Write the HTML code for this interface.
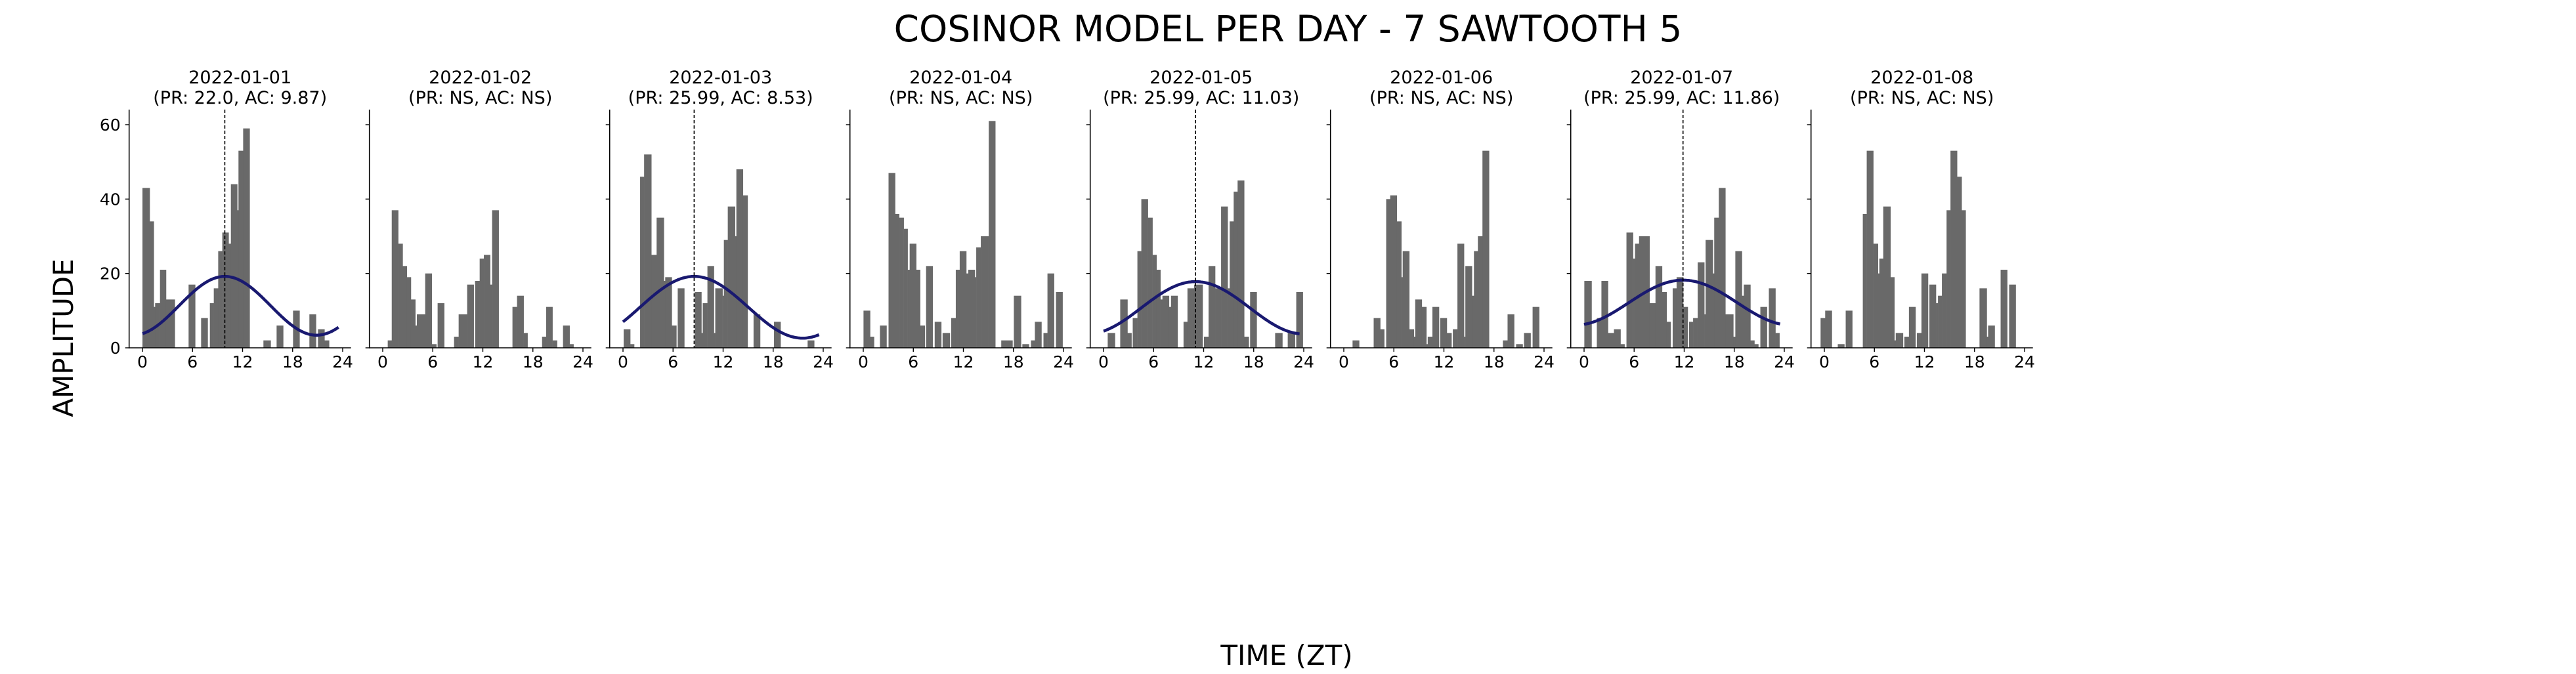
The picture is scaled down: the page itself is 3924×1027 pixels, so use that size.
<!DOCTYPE html>
<html><head><meta charset="utf-8">
<style>
html,body{margin:0;padding:0;background:#fff;}
svg{display:block;font-family:"DejaVu Sans","Liberation Sans",sans-serif;}
</style></head>
<body>
<svg id="chart" width="3924" height="1027" viewBox="0 0 3924 1027" xmlns="http://www.w3.org/2000/svg">
<text x="1962" y="63" font-size="55" text-anchor="middle" fill="#000">COSINOR MODEL PER DAY - 7 SAWTOOTH 5</text>
<text x="0" y="0" font-size="42" text-anchor="middle" fill="#000" transform="translate(111,515) rotate(-90)">AMPLITUDE</text>
<text x="1960" y="1013" font-size="42" text-anchor="middle" fill="#000">TIME (ZT)</text>
<g id="panels"></g>
</svg>
<script>
// Per-day visible bar segments: start hour, end hour, amplitude
const d1_t0=[0,0.87,1.36,1.52,2.1,2.83,5.53,7.03,8.08,8.55,9.08,9.57,10.33,10.6,11.36,11.51,12.07,14.5,16.08,18.05,20.01,21.04,21.82];
const d1_t1=[0.87,1.36,1.52,2.1,2.83,3.88,6.32,7.82,8.55,9.08,9.57,10.33,10.6,11.36,11.51,12.07,12.85,15.37,16.87,18.83,20.8,21.82,22.37];
const d1_v=[43,34,11,12,21,13,17,8,12,16,26,31,28,44,37,53,59,2,6,10,9,5,2];

const d2_t0=[0.6,1.08,1.86,2.39,2.89,3.38,3.91,4.09,5.09,5.88,6.58,8.55,9.1,10.12,11.07,11.62,12.12,12.88,13.11,15.55,16.1,16.89,19.1,19.59,20.35,21.61,22.4];
const d2_t1=[1.08,1.86,2.39,2.89,3.38,3.91,4.09,5.09,5.88,6.43,7.37,9.1,10.12,10.91,11.62,12.12,12.88,13.11,13.9,16.1,16.89,17.36,19.59,20.35,20.9,22.4,22.87];
const d2_v=[2,37,28,22,19,13,6,9,20,1,12,3,9,17,18,24,25,17,37,11,14,4,3,11,2,6,1];

const d3_t0=[0.08,0.87,2.05,2.53,3.4,4.03,4.9,5.06,5.85,6.56,8.61,9.4,9.56,10.12,10.9,11.06,11.93,12.09,12.56,13.43,13.59,14.38,15.65,18.1,22.13];
const d3_t1=[0.87,1.34,2.53,3.4,4.03,4.9,5.06,5.85,6.4,7.35,9.4,9.56,10.12,10.9,11.06,11.93,12.09,12.56,13.43,13.59,14.38,14.94,16.44,18.89,22.92];
const d3_v=[5,1,46,52,25,35,18,19,6,16,15,4,12,22,4,16,14,29,38,30,48,41,9,7,2];

const d4_t0=[0.03,0.82,2.0,3.03,3.82,4.3,4.85,5.32,5.56,6.35,6.82,7.53,8.56,9.51,10.54,11.09,11.56,12.35,12.59,13.38,13.54,14.09,15.04,16.54,18.05,19.07,20.1,20.57,21.6,22.08,23.1];
const d4_t1=[0.82,1.29,2.79,3.82,4.3,4.85,5.32,5.56,6.35,6.82,7.38,8.32,9.35,10.38,11.09,11.56,12.35,12.59,13.38,13.54,14.09,15.04,15.83,17.89,18.91,19.86,20.57,21.36,22.08,22.87,23.89];
const d4_v=[10,3,6,47,36,35,32,21,28,21,6,22,7,4,8,21,26,20,21,19,27,30,61,2,14,1,2,7,4,20,15];

const d5_t0=[0.5,2.0,2.87,3.5,4.06,4.53,5.32,5.87,6.35,6.82,7.06,7.85,8.09,9.59,10.06,10.85,12.04,12.59,13.38,14.09,14.88,15.12,15.6,16.07,16.86,17.57,20.57,22.08,23.1];
const d5_t1=[1.37,2.87,3.35,4.06,4.53,5.32,5.87,6.35,6.82,7.06,7.85,8.09,8.88,10.06,10.85,11.88,12.59,13.38,14.09,14.88,15.12,15.6,16.07,16.86,17.41,18.36,21.44,22.95,23.89];
const d5_v=[4,13,4,8,26,40,35,25,21,13,14,11,14,7,16,17,3,22,16,38,16,34,42,45,3,15,4,4,15];

const d6_t0=[1.05,3.58,4.37,5.08,5.56,6.35,6.9,7.06,7.85,8.4,8.56,9.35,9.9,10.06,10.62,11.56,12.35,13.07,13.62,14.41,14.57,15.36,15.6,16.07,16.62,19.07,19.63,20.65,21.6,22.63];
const d6_t1=[1.84,4.37,4.85,5.56,6.35,6.9,7.06,7.85,8.4,8.56,9.35,9.9,10.06,10.62,11.41,12.35,12.91,13.62,14.41,14.57,15.36,15.6,16.07,16.62,17.41,19.63,20.42,21.44,22.39,23.42];
const d6_v=[2,8,5,40,41,34,19,26,5,3,13,11,1,3,11,8,4,5,28,3,22,14,26,30,53,2,9,1,4,11];

const d7_t0=[0.03,1.53,2.08,2.87,3.58,4.37,5.08,5.87,6.11,6.59,7.85,8.56,9.35,9.9,10.62,11.09,11.88,12.59,13.07,13.62,14.41,14.57,15.44,15.6,16.15,16.94,17.89,18.13,18.92,19.15,19.94,20.42,21.13,22.15,22.94];
const d7_t1=[0.9,2.08,2.87,3.58,4.37,4.85,5.87,6.11,6.59,7.85,8.56,9.35,9.9,10.38,11.09,11.88,12.43,13.07,13.62,14.41,14.57,15.44,15.6,16.15,16.94,17.89,18.13,18.92,19.15,19.94,20.42,20.89,21.92,22.94,23.42];
const d7_v=[18,8,18,4,5,1,31,24,28,30,12,22,15,7,16,19,11,7,8,23,9,29,20,35,43,9,3,26,14,17,2,1,11,16,4];

const d8_t0=[-0.45,0.1,1.61,2.56,4.61,5.08,5.87,6.43,6.59,7.06,7.93,8.4,8.56,9.59,10.14,11.09,11.64,12.59,13.38,13.62,14.09,14.65,15.12,15.91,16.46,18.6,19.47,19.63,21.13,22.15];
const d8_t1=[0.1,0.9,2.4,3.35,5.08,5.87,6.43,6.59,7.06,7.93,8.4,8.56,9.43,10.14,10.93,11.64,12.43,13.38,13.62,14.09,14.65,15.12,15.91,16.46,16.94,19.47,19.63,20.42,21.92,22.94];
const d8_v=[8,10,1,10,36,53,28,20,24,38,19,2,4,3,11,4,20,17,12,14,20,37,53,46,37,16,3,6,21,17];

const dates=["2022-01-01","2022-01-02","2022-01-03","2022-01-04","2022-01-05","2022-01-06","2022-01-07","2022-01-08"];
const periods=[22.0,null,25.99,null,25.99,null,25.99,null];
const acrophases=[9.87,null,8.53,null,11.03,null,11.86,null];
const mesors=[11.3,null,10.9,null,10.76,null,12.14,null];
const amplitudes=[7.9,null,8.3,null,7.04,null,6.06,null];
const xTicks=[0,6,12,18,24];
const yTicks=[0,20,40,60];

const starts=[d1_t0,d2_t0,d3_t0,d4_t0,d5_t0,d6_t0,d7_t0,d8_t0];
const ends=[d1_t1,d2_t1,d3_t1,d4_t1,d5_t1,d6_t1,d7_t1,d8_t1];
const vals=[d1_v,d2_v,d3_v,d4_v,d5_v,d6_v,d7_v,d8_v];

const NS="http://www.w3.org/2000/svg";
const root=document.getElementById('panels');
function mk(tag,attrs,parent){const e=document.createElementNS(NS,tag);for(const k in attrs)e.setAttribute(k,attrs[k]);parent.appendChild(e);return e;}

const spine0=196.7, step=366, axW=338, yTop=167, yBase=530, pxPerUnit=340/60, pxPerHr=305/24, zeroOff=20.3;

for(let p=0;p<8;p++){
  const sx=spine0+step*p;
  const X=h=>sx+zeroOff+h*pxPerHr;
  const Y=v=>yBase-v*pxPerUnit;
  const g=mk('g',{},root);
  
  
  for(let i=0;i<vals[p].length;i++){
    const r=mk('rect',{x:X(starts[p][i]),y:Y(vals[p][i]),width:X(ends[p][i])-X(starts[p][i])+0.3,height:vals[p][i]*pxPerUnit,fill:'#696969'},g);
    
    
  }
  if(periods[p]!==null){
    let d='';
    for(let k=0;k<=235;k++){const t=k*0.1;const v=mesors[p]+amplitudes[p]*Math.cos(2*Math.PI*(t-acrophases[p])/periods[p]);d+=(k?'L':'M')+X(t).toFixed(1)+' '+Y(v).toFixed(1);}
    const c=mk('path',{d:d,fill:'none',stroke:'#191970','stroke-width':4.5},g);
    
    
    const a=mk('line',{x1:X(acrophases[p]),x2:X(acrophases[p]),y1:yTop,y2:yBase,stroke:'#000','stroke-width':1.6,'stroke-dasharray':'5,3'},g);
    
    
  }
  const ls=mk('line',{x1:sx,x2:sx,y1:yTop,y2:yBase+0.8,stroke:'#000','stroke-width':1.6},g);
  
  
  const bs=mk('line',{x1:sx-0.8,x2:sx+axW,y1:yBase,y2:yBase,stroke:'#000','stroke-width':1.6},g);
  
  
  for(const v of yTicks){
    mk('line',{x1:sx-6,x2:sx,y1:Y(v),y2:Y(v),stroke:'#000','stroke-width':1.4},g);
    if(p===0){
      const t=mk('text',{x:sx-13,y:Y(v)+9,'font-size':25,'text-anchor':'end',fill:'#000'},g);
      t.textContent=v;
      
      
    }
  }
  for(const h of xTicks){
    mk('line',{x1:X(h),x2:X(h),y1:yBase,y2:yBase+6,stroke:'#000','stroke-width':1.4},g);
    const t=mk('text',{x:X(h),y:560,'font-size':25,'text-anchor':'middle',fill:'#000'},g);
    t.textContent=h;
    
    
  }
  const cx=sx+axW/2;
  const t1=mk('text',{x:cx,y:127,'font-size':27,'text-anchor':'middle',fill:'#000'},g);
  t1.textContent=dates[p];
  
  
  const t2=mk('text',{x:cx,y:158,'font-size':27,'text-anchor':'middle',fill:'#000'},g);
  t2.textContent=periods[p]===null?'(PR: NS, AC: NS)':'(PR: '+(Number.isInteger(periods[p])?periods[p].toFixed(1):periods[p])+', AC: '+acrophases[p]+')';
  
  
}
</script>
</body></html>
